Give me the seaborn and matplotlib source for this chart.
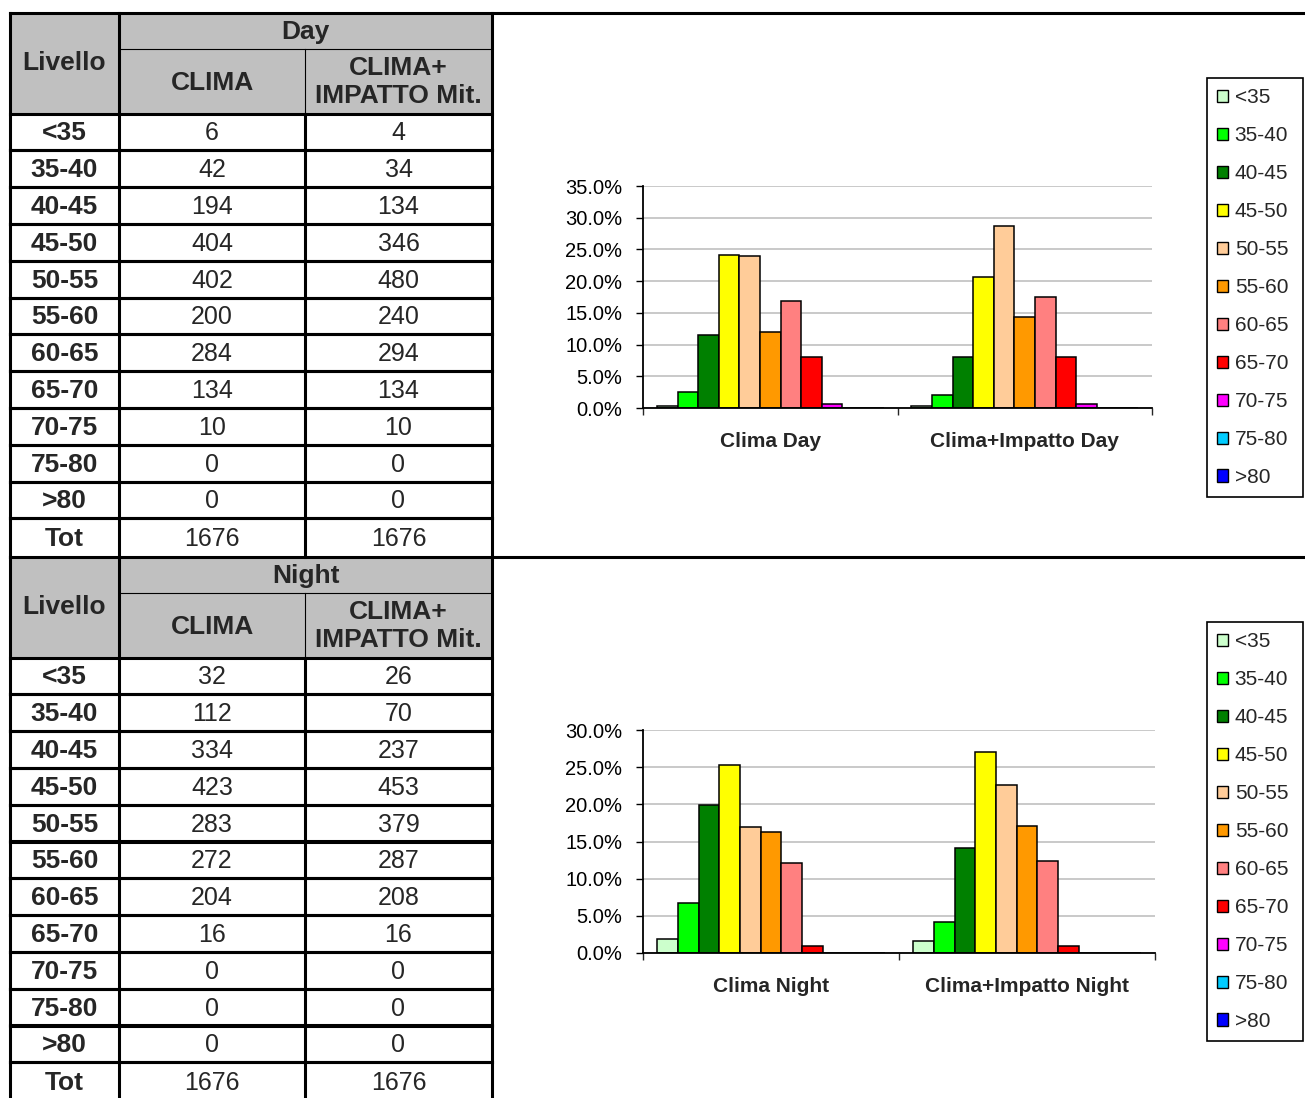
import numpy as np
import pandas as pd
import matplotlib
matplotlib.use("Agg")
import matplotlib.pyplot as plt
from matplotlib.patches import Rectangle, Patch
from matplotlib.ticker import PercentFormatter, MultipleLocator, FixedLocator
import seaborn as sns

levels = ["<35", "35-40", "40-45", "45-50", "50-55", "55-60", "60-65", "65-70", "70-75", "75-80", ">80"]
level_colors = ["#CCFFCC", "#00FF00", "#008000", "#FFFF00", "#FFCC99", "#FF9900",
                "#FF8080", "#FF0000", "#FF00FF", "#00CCFF", "#0000FF"]
day_clima = [6, 42, 194, 404, 402, 200, 284, 134, 10, 0, 0]
day_impatto = [4, 34, 134, 346, 480, 240, 294, 134, 10, 0, 0]
night_clima = [32, 112, 334, 423, 283, 272, 204, 16, 0, 0, 0]
night_impatto = [26, 70, 237, 453, 379, 287, 208, 16, 0, 0, 0]
tot_day = [1676, 1676]
tot_night = [1676, 1676]
day_scen = ["Clima Day", "Clima+Impatto Day"]
night_scen = ["Clima Night", "Clima+Impatto Night"]

W, H = 1305, 1098

sns.set_style("white")
plt.rcParams["font.family"] = ["Liberation Sans", "DejaVu Sans"]

fig = plt.figure(figsize=(W / 100, H / 100), dpi=100)
bg = fig.add_axes([0, 0, 1, 1])
bg.set_xlim(0, W)
bg.set_ylim(H, 0)
bg.axis("off")

cols = [10, 119, 305, 492]
THICK = 2.2
THIN = 0.8
BIG = 19
NUM = 18


def hline(y, x0, x1, lw):
    bg.plot([x0, x1], [y, y], color="black", lw=lw, solid_capstyle="projecting")


def vline(x, y0, y1, lw):
    bg.plot([x, x], [y0, y1], color="black", lw=lw, solid_capstyle="projecting")


def draw_table(top, title, clima, impatto, tots, bottom):
    h1 = top + 35.5
    h2 = top + 100.5
    rh = 36.8
    bg.add_patch(Rectangle((cols[0], top), cols[3] - cols[0], h2 - top,
                           facecolor="#C0C0C0", edgecolor="none"))
    bg.text((cols[0] + cols[1]) / 2, (top + h2) / 2, "Livello", ha="center", va="center",
            fontsize=BIG, fontweight="bold")
    bg.text((cols[1] + cols[3]) / 2, (top + h1) / 2 + 1, title, ha="center", va="center",
            fontsize=BIG, fontweight="bold")
    bg.text((cols[1] + cols[2]) / 2, (h1 + h2) / 2 + 2, "CLIMA", ha="center", va="center",
            fontsize=BIG, fontweight="bold")
    bg.text((cols[2] + cols[3]) / 2, (h1 + h2) / 2 + 1, "CLIMA+\nIMPATTO Mit.", ha="center",
            va="center", fontsize=BIG, fontweight="bold", linespacing=1.2)

    rows = levels + ["Tot"]
    v1 = list(clima) + [tots[0]]
    v2 = list(impatto) + [tots[1]]
    y = h2
    for i, r in enumerate(rows):
        hgt = rh if r != "Tot" else 39
        yc = y + hgt / 2 + 1.5
        bg.text((cols[0] + cols[1]) / 2, yc, r, ha="center", va="center", fontsize=BIG,
                fontweight="bold")
        bg.text((cols[1] + cols[2]) / 2, yc, str(v1[i]), ha="center", va="center", fontsize=NUM)
        bg.text((cols[2] + cols[3]) / 2, yc, str(v2[i]), ha="center", va="center", fontsize=NUM)
        y += hgt
        if y < H:
            hline(y, cols[0], cols[3], THICK)
    # grid
    hline(h1, cols[1], cols[3], THIN)
    hline(h2, cols[0], cols[3], THICK)
    for i in range(1, len(rows)):
        hline(h2 + i * rh, cols[0], cols[3], THICK)
    vline(cols[0], top, bottom, THICK)
    vline(cols[1], top, bottom, THICK)
    vline(cols[2], h1, h2, THIN)
    vline(cols[2], h2, bottom, THICK)
    vline(cols[3], top, bottom, THICK)


draw_table(13, "Day", day_clima, day_impatto, tot_day, 557)
draw_table(557, "Night", night_clima, night_impatto, tot_night, H + 5)
hline(13, cols[0], W + 5, THICK)
hline(557, cols[3], W + 5, THICK)


def draw_chart(px, scen, clima, impatto, tots, ymax, leg_box):
    x0, x1, ytop, ybot = px
    ax = fig.add_axes([x0 / W, 1 - ybot / H, (x1 - x0) / W, (ybot - ytop) / H])
    df = pd.DataFrame({
        "scenario": np.repeat(scen, len(levels)),
        "level": levels * 2,
        "pct": np.r_[np.array(clima) / tots[0], np.array(impatto) / tots[1]],
    })
    sns.barplot(data=df, x="scenario", y="pct", hue="level", order=scen, hue_order=levels,
                palette=dict(zip(levels, level_colors)), saturation=1, width=0.89,
                edgecolor="black", linewidth=1.1, errorbar=None, legend=False, ax=ax)
    ax.patch.set_alpha(0)
    ax.set_xlim(-0.5, 1.5)
    ax.set_ylim(0, ymax)
    ax.set_xlabel("")
    ax.set_ylabel("")
    ax.yaxis.set_major_locator(MultipleLocator(0.05))
    ax.yaxis.set_major_formatter(PercentFormatter(1.0, decimals=1))
    ax.grid(axis="y", color="#C0C0C0", lw=1.2)
    ax.set_axisbelow(True)
    for s in ["top", "right"]:
        ax.spines[s].set_visible(False)
    for s in ["left", "bottom"]:
        ax.spines[s].set_color("black")
        ax.spines[s].set_linewidth(1.3)
    ax.tick_params(axis="y", left=True, direction="out", length=5, width=1, labelsize=14.5,
                   pad=10, colors="black")
    ax.tick_params(axis="x", which="major", bottom=False, length=0, pad=17, labelsize=15)
    ax.xaxis.set_minor_locator(FixedLocator([-0.5, 0.5, 1.5]))
    ax.tick_params(axis="x", which="minor", bottom=True, direction="out", length=5, width=1)
    for lbl in ax.get_xticklabels():
        lbl.set_fontweight("bold")

    handles = [Patch(facecolor=c, edgecolor="black", lw=1) for c in level_colors]
    lx0, ly0, lx1, ly1 = leg_box
    ax.legend(handles, levels, loc="upper left",
              bbox_to_anchor=(lx0 / W, 1 - ly1 / H, (lx1 - lx0) / W, (ly1 - ly0) / H),
              bbox_transform=fig.transFigure, mode="expand", borderaxespad=0,
              fontsize=15, frameon=True, fancybox=False, framealpha=1, edgecolor="black",
              handlelength=0.53, handleheight=0.53, handletextpad=0.3, labelspacing=0.91,
              borderpad=0.5)
    ax.get_legend().get_frame().set_linewidth(1.2)
    return ax


draw_chart((643, 1152, 186, 408), day_scen, day_clima, day_impatto, tot_day, 0.35,
           (1207, 78, 1303, 496))
draw_chart((643, 1155, 730, 953), night_scen, night_clima, night_impatto, tot_night, 0.30,
           (1207, 622, 1303, 1040))

fig.savefig("out.png", dpi=100)
